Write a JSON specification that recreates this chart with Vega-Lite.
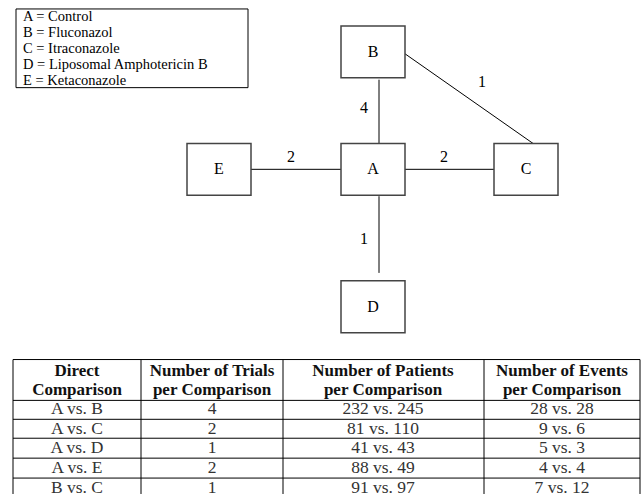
{
  "$schema": "https://vega.github.io/schema/vega-lite/v6.json",
  "width": 641,
  "height": 496,
  "autosize": {"type": "fit", "contains": "padding"},
  "padding": 0,
  "background": "white",
  "config": {"view": {"stroke": null}},
  "datasets": {
    "legendBox": [{"x": 16, "x2": 248, "y": 9, "y2": 88}],
    "legendText": [
      {"t": "A = Control", "y": 17},
      {"t": "B = Fluconazol", "y": 33},
      {"t": "C = Itraconazole", "y": 49},
      {"t": "D = Liposomal Amphotericin B", "y": 65},
      {"t": "E = Ketaconazole", "y": 81}
    ],
    "nodes": [
      {"id": "A", "x": 341, "x2": 405, "y": 144, "y2": 196, "cx": 373, "cy": 170},
      {"id": "B", "x": 341, "x2": 405, "y": 26, "y2": 78, "cx": 373, "cy": 52},
      {"id": "C", "x": 494, "x2": 558, "y": 144, "y2": 196, "cx": 526, "cy": 170},
      {"id": "D", "x": 341, "x2": 405, "y": 282, "y2": 334, "cx": 373, "cy": 308},
      {"id": "E", "x": 187, "x2": 251, "y": 144, "y2": 196, "cx": 219, "cy": 170}
    ],
    "edges": [
      {"pair": "A-B", "trials": "4", "x": 379, "x2": 379, "y": 80, "y2": 144, "lx": 364, "ly": 108},
      {"pair": "A-D", "trials": "1", "x": 379, "x2": 379, "y": 197, "y2": 274, "lx": 364, "ly": 240},
      {"pair": "E-A", "trials": "2", "x": 251, "x2": 341, "y": 170, "y2": 170, "lx": 291, "ly": 158},
      {"pair": "A-C", "trials": "2", "x": 405, "x2": 494, "y": 170, "y2": 170, "lx": 444, "ly": 158},
      {"pair": "B-C", "trials": "1", "x": 405, "x2": 533, "y": 54, "y2": 144, "lx": 482, "ly": 82}
    ],
    "tableLines": [
      {"x": 13, "x2": 640, "y": 361, "y2": 361},
      {"x": 13, "x2": 640, "y": 402, "y2": 402},
      {"x": 13, "x2": 640, "y": 421, "y2": 421},
      {"x": 13, "x2": 640, "y": 440, "y2": 440},
      {"x": 13, "x2": 640, "y": 460, "y2": 460},
      {"x": 13, "x2": 640, "y": 480, "y2": 480},
      {"x": 13, "x2": 13, "y": 361, "y2": 496},
      {"x": 141, "x2": 141, "y": 361, "y2": 496},
      {"x": 283, "x2": 283, "y": 361, "y2": 496},
      {"x": 484, "x2": 484, "y": 361, "y2": 496},
      {"x": 640, "x2": 640, "y": 361, "y2": 496}
    ],
    "tableHead": [
      {"t": "Direct", "x": 77, "y": 373},
      {"t": "Comparison", "x": 77, "y": 392},
      {"t": "Number of Trials", "x": 212, "y": 373},
      {"t": "per Comparison", "x": 212, "y": 392},
      {"t": "Number of Patients", "x": 383, "y": 373},
      {"t": "per Comparison", "x": 383, "y": 392},
      {"t": "Number of Events", "x": 562, "y": 373},
      {"t": "per Comparison", "x": 562, "y": 392}
    ],
    "tableRows": [
      {"comparison": "A vs. B", "trials": "4", "patients": "232 vs. 245", "events": "28 vs. 28", "y": 411},
      {"comparison": "A vs. C", "trials": "2", "patients": "81 vs. 110", "events": "9 vs. 6", "y": 430.5},
      {"comparison": "A vs. D", "trials": "1", "patients": "41 vs. 43", "events": "5 vs. 3", "y": 450},
      {"comparison": "A vs. E", "trials": "2", "patients": "88 vs. 49", "events": "4 vs. 4", "y": 470},
      {"comparison": "B vs. C", "trials": "1", "patients": "91 vs. 97", "events": "7 vs. 12", "y": 489.5}
    ]
  },
  "layer": [
    {
      "data": {"name": "legendBox"},
      "mark": {"type": "rect", "fill": "white", "stroke": "black", "strokeWidth": 1},
      "encoding": {
        "x": {"field": "x", "type": "quantitative", "scale": {"domain": [0, 641], "nice": false, "zero": false}, "axis": null},
        "x2": {"field": "x2"},
        "y": {"field": "y", "type": "quantitative", "scale": {"domain": [0, 496], "reverse": true, "nice": false, "zero": false}, "axis": null},
        "y2": {"field": "y2"}
      }
    },
    {
      "data": {"name": "legendText"},
      "mark": {"type": "text", "align": "left", "baseline": "middle", "font": "Liberation Serif", "fontSize": 14.5, "color": "black"},
      "encoding": {
        "x": {"datum": 23, "type": "quantitative"},
        "y": {"field": "y", "type": "quantitative"},
        "text": {"field": "t"}
      }
    },
    {
      "data": {"name": "edges"},
      "mark": {"type": "rule", "color": "black", "strokeWidth": 1},
      "encoding": {
        "x": {"field": "x", "type": "quantitative"},
        "x2": {"field": "x2"},
        "y": {"field": "y", "type": "quantitative"},
        "y2": {"field": "y2"}
      }
    },
    {
      "data": {"name": "edges"},
      "mark": {"type": "text", "align": "center", "baseline": "middle", "font": "Liberation Serif", "fontSize": 16, "color": "black"},
      "encoding": {
        "x": {"field": "lx", "type": "quantitative"},
        "y": {"field": "ly", "type": "quantitative"},
        "text": {"field": "trials"}
      }
    },
    {
      "data": {"name": "nodes"},
      "mark": {"type": "rect", "fill": "white", "stroke": "#444444", "strokeWidth": 1.5},
      "encoding": {
        "x": {"field": "x", "type": "quantitative"},
        "x2": {"field": "x2"},
        "y": {"field": "y", "type": "quantitative"},
        "y2": {"field": "y2"}
      }
    },
    {
      "data": {"name": "nodes"},
      "mark": {"type": "text", "align": "center", "baseline": "middle", "font": "Liberation Serif", "fontSize": 16, "color": "black"},
      "encoding": {
        "x": {"field": "cx", "type": "quantitative"},
        "y": {"field": "cy", "type": "quantitative"},
        "text": {"field": "id"}
      }
    },
    {
      "data": {"name": "tableLines"},
      "mark": {"type": "rule", "color": "black", "strokeWidth": 1},
      "encoding": {
        "x": {"field": "x", "type": "quantitative"},
        "x2": {"field": "x2"},
        "y": {"field": "y", "type": "quantitative"},
        "y2": {"field": "y2"}
      }
    },
    {
      "data": {"name": "tableHead"},
      "mark": {"type": "text", "align": "center", "baseline": "middle", "font": "Liberation Serif", "fontSize": 17, "fontWeight": "bold", "color": "#111111"},
      "encoding": {
        "x": {"field": "x", "type": "quantitative"},
        "y": {"field": "y", "type": "quantitative"},
        "text": {"field": "t"}
      }
    },
    {
      "data": {"name": "tableRows"},
      "mark": {"type": "text", "align": "center", "baseline": "middle", "font": "Liberation Serif", "fontSize": 17.5, "color": "#333333"},
      "encoding": {
        "x": {"datum": 77, "type": "quantitative"},
        "y": {"field": "y", "type": "quantitative"},
        "text": {"field": "comparison"}
      }
    },
    {
      "data": {"name": "tableRows"},
      "mark": {"type": "text", "align": "center", "baseline": "middle", "font": "Liberation Serif", "fontSize": 17.5, "color": "#333333"},
      "encoding": {
        "x": {"datum": 212, "type": "quantitative"},
        "y": {"field": "y", "type": "quantitative"},
        "text": {"field": "trials"}
      }
    },
    {
      "data": {"name": "tableRows"},
      "mark": {"type": "text", "align": "center", "baseline": "middle", "font": "Liberation Serif", "fontSize": 17.5, "color": "#333333"},
      "encoding": {
        "x": {"datum": 383, "type": "quantitative"},
        "y": {"field": "y", "type": "quantitative"},
        "text": {"field": "patients"}
      }
    },
    {
      "data": {"name": "tableRows"},
      "mark": {"type": "text", "align": "center", "baseline": "middle", "font": "Liberation Serif", "fontSize": 17.5, "color": "#333333"},
      "encoding": {
        "x": {"datum": 562, "type": "quantitative"},
        "y": {"field": "y", "type": "quantitative"},
        "text": {"field": "events"}
      }
    }
  ]
}
